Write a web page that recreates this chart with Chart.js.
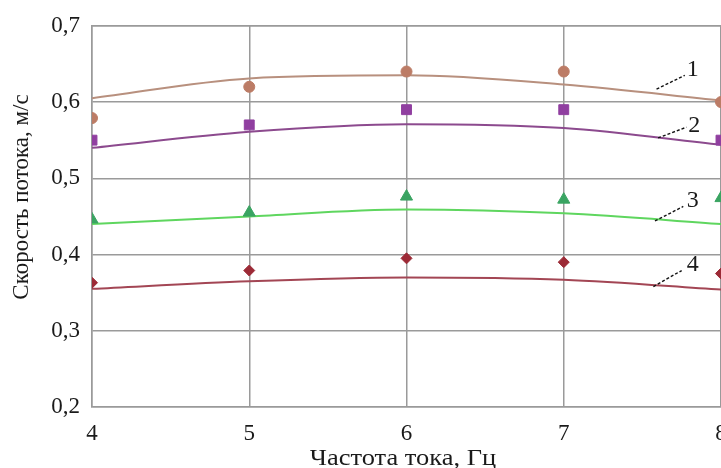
<!DOCTYPE html>
<html><head><meta charset="utf-8">
<script src="https://cdn.jsdelivr.net/npm/chart.js@4/dist/chart.umd.min.js"></script>
<style>
html,body{margin:0;padding:0;background:#fff;overflow:hidden;width:721px;height:468px;}
#wrap{position:absolute;left:0;top:0;width:741px;height:468px;}
</style></head>
<body><div id="wrap"><canvas id="c" width="741" height="468"></canvas></div>
<script>
const freq = [4, 5, 6, 7, 8];
const xTicks = [4, 5, 6, 7, 8];
const yTicks = [0.2, 0.3, 0.4, 0.5, 0.6, 0.7];
// measured points
const meas1 = [0.579, 0.620, 0.640, 0.640, 0.600];
const meas2 = [0.550, 0.570, 0.590, 0.590, 0.550];
const meas3 = [0.446, 0.455, 0.476, 0.472, 0.474];
const meas4 = [0.363, 0.379, 0.395, 0.390, 0.375];
// fitted curves
const fit1 = [0.605, 0.631, 0.635, 0.623, 0.602];
const fit2 = [0.540, 0.561, 0.571, 0.566, 0.544];
const fit3 = [0.440, 0.450, 0.459, 0.454, 0.440];
const fit4 = [0.355, 0.365, 0.370, 0.367, 0.354];
// curve labels (data coords)
const curveLabels = ['1', '2', '3', '4'];
const labelX = [7.82, 7.83, 7.82, 7.82];
const labelY = [0.643, 0.569, 0.471, 0.386];
const leadX1 = [7.59, 7.60, 7.58, 7.57];
const leadY1 = [0.617, 0.553, 0.444, 0.358];
const leadX2 = [7.77, 7.78, 7.76, 7.75];
const leadY2 = [0.635, 0.567, 0.463, 0.379];
const xTitle = 'Частота тока, Гц';
const yTitle = 'Скорость потока, м/с';

const pts = (xs, ys) => xs.map((x, i) => ({x: x, y: ys[i]}));

const lineDs = (data, color) => ({
  data: pts(freq, data), showLine: true, borderColor: color, borderWidth: 2,
  pointRadius: 0, cubicInterpolationMode: 'monotone', fill: false, order: 2
});
const markDs = (data, color, style, r) => ({
  data: pts(freq, data), showLine: false, pointStyle: style, pointRadius: r,
  backgroundColor: color, borderColor: color, borderWidth: 1, order: 1
});

const SERIF = '"Liberation Serif", "Times New Roman", serif';

const labelPlugin = {
  id: 'curveLabels',
  afterDatasetsDraw(chart) {
    const {ctx, scales: {x, y}} = chart;
    ctx.save();
    ctx.strokeStyle = '#111';
    ctx.lineWidth = 1.4;
    ctx.setLineDash([3, 2]);
    for (let i = 0; i < curveLabels.length; i++) {
      ctx.beginPath();
      ctx.moveTo(x.getPixelForValue(leadX1[i]), y.getPixelForValue(leadY1[i]));
      ctx.lineTo(x.getPixelForValue(leadX2[i]), y.getPixelForValue(leadY2[i]));
      ctx.stroke();
    }
    ctx.setLineDash([]);
    ctx.fillStyle = '#1a1a1a';
    ctx.font = '24px ' + SERIF;
    ctx.textAlign = 'center';
    ctx.textBaseline = 'middle';
    for (let i = 0; i < curveLabels.length; i++) {
      ctx.fillText(curveLabels[i], x.getPixelForValue(labelX[i]), y.getPixelForValue(labelY[i]));
    }
    ctx.restore();
  }
};

const titlePlugin = {
  id: 'axisTitles',
  afterDraw(chart) {
    const {ctx, chartArea: a} = chart;
    ctx.save();
    ctx.fillStyle = '#1a1a1a';
    ctx.textAlign = 'center';
    ctx.textBaseline = 'middle';
    ctx.font = '23px ' + SERIF;
    ctx.save();
    ctx.translate(403, 459);
    ctx.scale(1.15, 1);
    ctx.fillText(xTitle, 0, 0);
    ctx.restore();
    ctx.save();
    ctx.translate(22, 197);
    ctx.rotate(-Math.PI / 2);
    ctx.fillText(yTitle, 0, 0);
    ctx.restore();
    ctx.strokeStyle = '#9a9a9a'; ctx.lineWidth = 1.5;
    ctx.beginPath(); ctx.moveTo(a.left, a.top); ctx.lineTo(a.right, a.top); ctx.stroke();
    ctx.restore();
  }
};

new Chart(document.getElementById('c'), {
  type: 'scatter',
  data: {
    datasets: [
      lineDs(fit1, '#b8907e'),
      lineDs(fit2, '#8c4a8e'),
      lineDs(fit3, '#5fd65f'),
      lineDs(fit4, '#a34654'),
      markDs(meas1, '#bc7c66', 'circle', 5.5),
      markDs(meas2, '#903fa0', 'rect', 7),
      markDs(meas3, '#3aa462', 'triangle', 7),
      markDs(meas4, '#9c2a36', 'rectRot', 5.5)
    ]
  },
  options: {
    responsive: false,
    animation: false,
    layout: {padding: {top: 24, right: 20, left: 0, bottom: 0}},
    plugins: {legend: {display: false}, tooltip: {enabled: false}},
    scales: {
      x: {
        type: 'linear', min: 4, max: 8,
        afterBuildTicks: (s) => { s.ticks = xTicks.map(v => ({value: v})); },
        afterFit: (s) => { s.height = 61; s.paddingLeft = 0; s.paddingRight = 0; },
        grid: {color: '#9a9a9a', lineWidth: 1.5, drawTicks: false},
        border: {display: true, color: '#9a9a9a', width: 1.5},
        ticks: {color: '#1a1a1a', padding: 13, font: {family: SERIF, size: 23},
                callback: (v) => String(v)}
      },
      y: {
        type: 'linear', min: 0.2, max: 0.7,
        afterBuildTicks: (s) => { s.ticks = yTicks.map(v => ({value: v})); },
        afterFit: (s) => { s.width = 92; },
        grid: {color: '#9a9a9a', lineWidth: 1.5, drawTicks: false},
        border: {display: true, color: '#9a9a9a', width: 1.5},
        ticks: {color: '#1a1a1a', padding: 12, font: {family: SERIF, size: 23},
                callback: (v) => v.toFixed(1).replace('.', ',')}
      }
    }
  },
  plugins: [labelPlugin, titlePlugin]
});
</script>
</body></html>
